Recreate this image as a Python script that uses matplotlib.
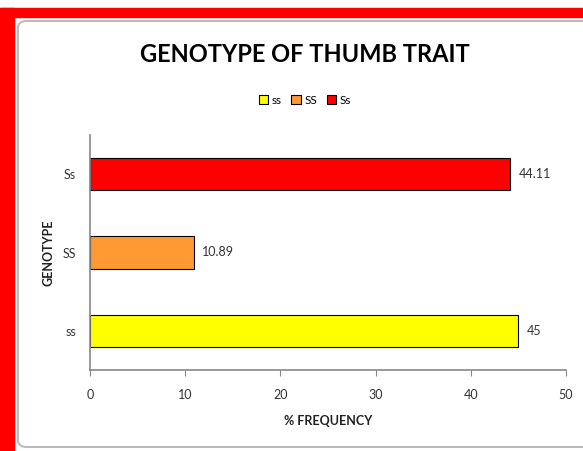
import matplotlib
matplotlib.use("Agg")
import matplotlib.pyplot as plt
from matplotlib.patches import Rectangle, FancyBboxPatch

# Dados do gráfico
genotipos = ["ss", "SS", "Ss"]
frequencias = [45, 10.89, 44.11]
rotulos_valores = ["45", "10.89", "44.11"]
cores = ["#FFFF00", "#FF9933", "#FF0000"]
ticks_x = [0, 10, 20, 30, 40, 50]

plt.rcParams['font.family'] = ['Lato', 'DejaVu Sans']

W, H = 583, 451
fig = plt.figure(figsize=(W / 100, H / 100), dpi=100)


def px(x, y):
    """Converte pixels (origem no topo) para coordenadas da figura"""
    return x / W, 1 - y / H


# Moldura vermelha e borda cinza do gráfico
fig.add_artist(Rectangle(px(0, 17), 1, 9 / H, transform=fig.transFigure,
                         color="#FF0000", zorder=0))
fig.add_artist(Rectangle(px(0, 451), 14 / W, (451 - 8) / H, transform=fig.transFigure,
                         color="#FF0000", zorder=0))
x0, y0 = px(18, 447)
fig.add_artist(FancyBboxPatch((x0, y0), 1.2, (447 - 21) / H,
                              boxstyle="round,pad=0,rounding_size=0.015",
                              transform=fig.transFigure, facecolor="white",
                              edgecolor="#BBBBBB", linewidth=1.5, zorder=1))

ax = fig.add_axes([90 / W, 1 - 370 / H, (566 - 90) / W, (370 - 135) / H])
ax.set_zorder(2)
ax.patch.set_alpha(0)

posicoes = range(len(genotipos))
ax.barh(posicoes, frequencias, height=0.41, color=cores, edgecolor="black", linewidth=0.8)
for p, v, r in zip(posicoes, frequencias, rotulos_valores):
    ax.text(v + 0.9, p, r, va="center", ha="left", fontsize=9, color="#333333")

ax.set_xlim(0, 50)
ax.set_ylim(-0.5, 2.5)
ax.set_xticks(ticks_x)
ax.set_yticks(list(posicoes))
ax.set_yticklabels(genotipos)
ax.tick_params(axis="x", direction="out", length=4, color="#888888", labelsize=9, pad=10,
               labelcolor="#333333")
ax.tick_params(axis="y", length=0, labelsize=9, pad=10, labelcolor="#333333")
for s in ["top", "right"]:
    ax.spines[s].set_visible(False)
for s in ["left", "bottom"]:
    ax.spines[s].set_color("#888888")
    ax.spines[s].set_linewidth(1.2)

ax.set_xlabel("% FREQUENCY", fontsize=9, fontweight="bold", labelpad=10, color="#222222")
ax.set_ylabel("GENOTYPE", fontsize=9, fontweight="bold", labelpad=6, color="#222222")

fig.text(305 / W, 1 - 55 / H, "GENOTYPE OF THUMB TRAIT", ha="center", va="center",
         fontsize=17, fontweight="bold")

# Legenda manual no topo
handles = [Rectangle((0, 0), 1, 1, facecolor=c, edgecolor="black", linewidth=0.8) for c in cores]
fig.legend(handles, genotipos, loc="center", bbox_to_anchor=px(305, 100), ncol=3,
           frameon=False, fontsize=8.5, handlelength=0.8, handleheight=0.8,
           handletextpad=0.3, columnspacing=0.8)

fig.savefig("out.png", dpi=100)
